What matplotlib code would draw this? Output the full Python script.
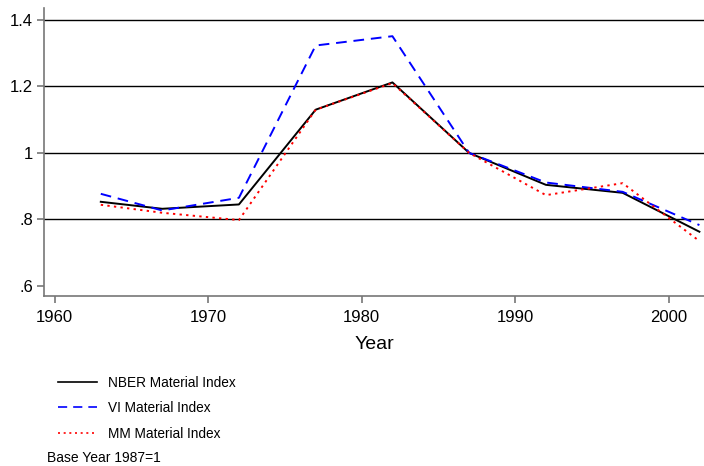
import numpy as np
import matplotlib
matplotlib.use("Agg")
import matplotlib.pyplot as plt
from matplotlib.lines import Line2D

plt.rcParams['font.family'] = ['Liberation Sans', 'DejaVu Sans']

years = [1963, 1967, 1972, 1977, 1982, 1987, 1992, 1997, 2002]
nber = [0.853, 0.832, 0.845, 1.130, 1.212, 1.000, 0.904, 0.880, 0.763]
vi = [0.877, 0.827, 0.865, 1.323, 1.351, 1.000, 0.911, 0.883, 0.783]
mm = [0.844, 0.820, 0.798, 1.130, 1.210, 1.000, 0.873, 0.909, 0.735]

y_ticks = [0.6, 0.8, 1.0, 1.2, 1.4]
y_tick_labels = ['.6', '.8', '1', '1.2', '1.4']
x_ticks = [1960, 1970, 1980, 1990, 2000]

fig = plt.figure(figsize=(7.04, 4.66), dpi=100)
ax = fig.add_axes([0.0625, 0.365, 0.9375, 0.618])

for yv in [0.8, 1.0, 1.2, 1.4]:
    ax.axhline(yv, color='black', lw=1.0, zorder=1)

ax.plot(years, nber, color='black', lw=1.4, zorder=3)
ax.plot(years, vi, color='blue', lw=1.4, dashes=(5.5, 3.5), zorder=3)
ax.plot(years, mm, color='red', lw=1.4, dashes=(1.2, 2.2), zorder=3)

ax.set_xlim(1959.3, 2002.3)
ax.set_ylim(0.57, 1.436)
ax.set_yticks(y_ticks)
ax.set_yticklabels(y_tick_labels)
ax.set_xticks(x_ticks)
for s in ['top', 'right']:
    ax.spines[s].set_visible(False)
for s in ['left', 'bottom']:
    ax.spines[s].set_color('#777777')
    ax.spines[s].set_linewidth(1.2)
ax.tick_params(axis='both', colors='#777777', length=5, width=1.2, labelsize=12,
               labelcolor='black', pad=3)
ax.tick_params(axis='x', pad=5)
ax.set_xlabel('Year', fontsize=14, labelpad=8)

handles = [Line2D([], [], color='black', lw=1.2),
           Line2D([], [], color='blue', lw=1.2, dashes=(5.5, 3.6)),
           Line2D([], [], color='red', lw=1.2, dashes=(1.2, 2.2))]
labels = ['NBER Material Index', 'VI Material Index', 'MM Material Index']
fig.legend(handles, labels, loc='upper left', bbox_to_anchor=(0.082, 0.194),
           frameon=False, fontsize=9.8, handlelength=2.9, handletextpad=0.8,
           labelspacing=0.85, borderaxespad=0, borderpad=0)

fig.text(0.067, 0.009, 'Base Year 1987=1', fontsize=10, va='baseline')

fig.savefig('out.png', dpi=100)
